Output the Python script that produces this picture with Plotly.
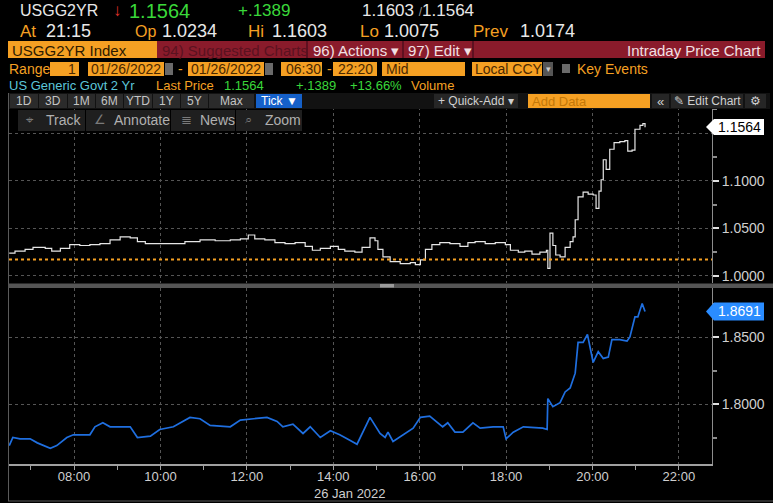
import plotly.graph_objects as go

W, H = 773, 503
FONT = "Liberation Sans, Arial, sans-serif"
DAY = "2022-01-26 "

# ---------------- data ----------------
times_2y = ["06:30", "06:38", "06:52", "07:03", "07:20", "07:29", "07:41", "07:54", "08:08", "08:22",
            "08:36", "08:50", "09:04", "09:18", "09:28", "09:39", "09:59", "10:20", "10:34", "10:55",
            "11:16", "11:37", "11:51", "12:02", "12:11", "12:25", "12:39", "12:53", "13:07", "13:21",
            "13:31", "13:42", "13:56", "14:07", "14:16", "14:30", "14:40", "14:51", "14:58", "15:02",
            "15:09", "15:19", "15:33", "15:47", "15:54", "16:01", "16:08", "16:17", "16:28", "16:42",
            "16:56", "17:07", "17:17", "17:31", "17:45", "17:59", "18:06", "18:17", "18:26", "18:36",
            "18:47", "18:56", "18:58", "19:01", "19:05", "19:09", "19:15", "19:22", "19:29", "19:33",
            "19:36", "19:40", "19:47", "19:54", "20:01", "20:05", "20:09", "20:12", "20:15", "20:19",
            "20:24", "20:30", "20:38", "20:45", "20:49", "20:55", "20:59", "21:06", "21:10", "21:13"]
yield_2y = [1.024, 1.026, 1.028, 1.030, 1.029, 1.026, 1.029, 1.033, 1.032, 1.033,
            1.034, 1.038, 1.041, 1.040, 1.036, 1.034, 1.034, 1.034, 1.036, 1.038,
            1.037, 1.038, 1.039, 1.043, 1.039, 1.038, 1.035, 1.034, 1.035, 1.031,
            1.027, 1.029, 1.031, 1.028, 1.026, 1.025, 1.030, 1.040, 1.037, 1.028,
            1.020, 1.015, 1.013, 1.014, 1.012, 1.017, 1.028, 1.033, 1.035, 1.034,
            1.031, 1.035, 1.036, 1.034, 1.035, 1.033, 1.027, 1.025, 1.026, 1.023,
            1.025, 1.027, 1.008, 1.045, 1.032, 1.022, 1.020, 1.030, 1.036, 1.041,
            1.059, 1.083, 1.088, 1.086, 1.085, 1.071, 1.089, 1.101, 1.122, 1.112,
            1.133, 1.140, 1.141, 1.142, 1.131, 1.132, 1.154, 1.158, 1.160, 1.156]

times_10y = ["06:30", "06:35", "06:45", "06:59", "07:09", "07:27", "07:36", "07:50", "07:59", "08:22",
             "08:29", "08:40", "08:50", "09:18", "09:28", "09:46", "09:59", "10:18", "10:41", "10:55",
             "11:09", "11:37", "11:51", "12:09", "12:28", "12:42", "12:50", "13:04", "13:18", "13:28",
             "13:42", "13:56", "14:09", "14:23", "14:33", "14:51", "15:05", "15:12", "15:16", "15:23",
             "15:37", "15:51", "16:01", "16:14", "16:32", "16:39", "16:49", "17:00", "17:14", "17:24",
             "17:42", "17:56", "18:00", "18:10", "18:24", "18:51", "18:57", "18:58", "19:05", "19:15",
             "19:22", "19:29", "19:36", "19:40", "19:47", "19:53", "20:01", "20:08", "20:15", "20:22",
             "20:27", "20:38", "20:48", "20:52", "20:59", "21:03", "21:09", "21:13"]
yield_10y = [1.769, 1.775, 1.774, 1.774, 1.771, 1.767, 1.769, 1.775, 1.777, 1.777,
             1.783, 1.786, 1.783, 1.783, 1.775, 1.776, 1.781, 1.783, 1.790, 1.789,
             1.784, 1.783, 1.788, 1.789, 1.790, 1.787, 1.783, 1.785, 1.778, 1.783,
             1.775, 1.780, 1.777, 1.773, 1.770, 1.790, 1.778, 1.775, 1.779, 1.772,
             1.777, 1.782, 1.790, 1.791, 1.783, 1.786, 1.779, 1.779, 1.786, 1.782,
             1.783, 1.783, 1.774, 1.779, 1.783, 1.782, 1.781, 1.804, 1.798, 1.801,
             1.809, 1.812, 1.823, 1.846, 1.846, 1.852, 1.831, 1.839, 1.834, 1.835,
             1.848, 1.848, 1.847, 1.850, 1.865, 1.865, 1.875, 1.869]

prev_close = 1.0174
last_2y = 1.1564
last_10y = 1.8691
hour_ticks = ["08:00", "10:00", "12:00", "14:00", "16:00", "18:00", "20:00", "22:00"]
minor_hours = ["07:00", "09:00", "11:00", "13:00", "15:00", "17:00", "19:00", "21:00"]
ticks_2y = [1.00, 1.05, 1.10, 1.15]
ticklabels_2y = ["1.0000", "1.0500", "1.1000", ""]   # 1.1500 hidden behind the last-price tag
ticks_10y = [1.80, 1.85]
date_label = "26 Jan 2022"

# ---------------- colours ----------------
ORANGE = "#f5a023"
GREEN = "#3ad83a"
WHITE = "#e8e8e8"
TEAL = "#5cc6da"
MAROON = "#8a1b2b"
BOXTXT = "#4a2800"
GRID = "#555555"
AXIS = "#8c8c8c"
LABEL = "#cfcfcf"


def X(px):
    return px / W


def Y(py):
    return 1 - py / H


shapes, ann = [], []


def rect(x0, y0, x1, y1, fill):
    shapes.append(dict(type="rect", xref="paper", yref="paper", x0=X(x0), x1=X(x1),
                       y0=Y(y1), y1=Y(y0), fillcolor=fill, line=dict(width=0)))


def hline(x0, x1, y, color, w=1):
    shapes.append(dict(type="line", xref="paper", yref="paper", x0=X(x0), x1=X(x1),
                       y0=Y(y), y1=Y(y), line=dict(color=color, width=w)))


def vline(x, y0, y1, color, w=1):
    shapes.append(dict(type="line", xref="paper", yref="paper", x0=X(x), x1=X(x),
                       y0=Y(y0), y1=Y(y1), line=dict(color=color, width=w)))


def txt(x, y, s, color, size, anchor="left"):
    ann.append(dict(xref="paper", yref="paper", x=X(x), y=Y(y), text=s, showarrow=False,
                    xanchor=anchor, yanchor="middle", borderpad=0,
                    font=dict(family=FONT, color=color, size=size)))


# ---------------- header ----------------
txt(19, 11, "USGG2YR", WHITE, 16)
txt(112, 11, "↓", "#e0302a", 17)
txt(128, 11, "1.1564", GREEN, 20)
txt(237, 11, "+.1389", GREEN, 17)
txt(361, 11, "1.1603 <span style='font-size:12px;color:#9a9a9a'>/</span>1.1564", WHITE, 17)

txt(19, 31, "At", ORANGE, 17)
txt(45, 31, "21:15", WHITE, 18)
txt(134, 31, "Op", ORANGE, 16)
txt(161, 31, "1.0234", WHITE, 18)
txt(247, 31, "Hi", ORANGE, 17)
txt(271, 31, "1.1603", WHITE, 18)
txt(359, 31, "Lo", ORANGE, 17)
txt(383, 31, "1.0075", WHITE, 18)
txt(472, 31, "Prev", ORANGE, 17)
txt(519, 31, "1.0174", WHITE, 18)

rect(8, 41, 157, 58, ORANGE)
txt(11, 50, "USGG2YR Index", "#2e1a00", 15)
rect(157, 41, 765, 58, MAROON)
vline(307, 41, 58, "#5e1020", 2)
vline(403, 41, 58, "#5e1020", 2)
vline(473, 41, 58, "#5e1020", 2)
txt(161, 50, "94) Suggested Charts", "#5a1220", 15)
txt(312, 50, "96) Actions ▾", "#f2e0e4", 15)
txt(407, 50, "97) Edit ▾", "#f2e0e4", 15)
txt(762, 50, "Intraday Price Chart", "#f2e0e4", 15, "right")

txt(8, 69, "Range", ORANGE, 14)
rect(50, 62, 79, 76, ORANGE)
txt(77, 69, "1", BOXTXT, 14, "right")
rect(88, 62, 164, 76, ORANGE)
txt(90, 69, "01/26/2022", BOXTXT, 14)
rect(165, 63, 173, 75, "#6a6a6a")
txt(177, 69, "-", ORANGE, 14)
rect(188, 62, 264, 76, ORANGE)
txt(190, 69, "01/26/2022", BOXTXT, 14)
rect(265, 63, 273, 75, "#6a6a6a")
rect(281, 62, 322, 76, ORANGE)
txt(285, 69, "06:30", BOXTXT, 14)
txt(326, 69, "-", ORANGE, 14)
rect(333, 62, 377, 76, ORANGE)
txt(337, 69, "22:20", BOXTXT, 14)
rect(382, 62, 465, 76, ORANGE)
txt(385, 69, "Mid", BOXTXT, 14)
rect(472, 62, 542, 76, ORANGE)
txt(474, 69, "Local CCY", BOXTXT, 14)
rect(543, 62, 553, 76, "#555555")
txt(548, 69, "▾", "#cccccc", 9, "center")
rect(562, 64, 570, 73, "#6a6a6a")
txt(576, 69, "Key Events", ORANGE, 14)

txt(8, 86, "US Generic Govt 2 Yr", TEAL, 13)
txt(155, 86, "Last Price", ORANGE, 13)
txt(223, 86, "1.1564", GREEN, 13)
txt(295, 86, "+.1389", GREEN, 13)
txt(349, 86, "+13.66%", GREEN, 13)
txt(410, 86, "Volume", ORANGE, 13)

rect(8, 93, 770, 109, "#121212")
for x0, x1, lab in [(10, 38, "1D"), (39, 67, "3D"), (68, 95, "1M"), (96, 123, "6M"),
                    (124, 152, "YTD"), (153, 180, "1Y"), (181, 208, "5Y"), (209, 254, "Max")]:
    rect(x0, 94, x1, 108, "#2b2b2b")
    txt((x0 + x1) / 2, 101, lab, "#c4c4c4", 12, "center")
rect(256, 94, 302, 108, "#1560c8")
txt(279, 101, "Tick ▼", "#ffffff", 12, "center")
rect(434, 94, 518, 108, "#262626")
txt(476, 101, "+ Quick-Add ▾", "#d0d0d0", 12, "center")
rect(528, 94, 650, 108, ORANGE)
txt(531, 101, "Add Data", "#c47808", 13)
rect(652, 94, 669, 108, "#262626")
txt(660, 101, "«", "#d0d0d0", 13, "center")
rect(671, 94, 743, 108, "#262626")
txt(707, 101, "✎ Edit Chart", "#d0d0d0", 12, "center")
rect(745, 94, 766, 108, "#262626")
txt(755, 101, "⚙", "#d0d0d0", 12, "center")

# chart toolbar
for x0, x1 in [(18, 85), (86, 170), (171, 235), (236, 302)]:
    rect(x0, 110, x1, 131, "#1f1f1f")
for ix, tx, lab, icon in [(25, 45, "Track", "⌖"), (93, 113, "Annotate", "∠"),
                          (180, 199, "News", "≣"), (244, 264, "Zoom", "⌕")]:
    txt(ix, 120, icon, "#7a7a7a", 13)
    txt(tx, 120, lab, "#b0b0b0", 14)

# frame + divider
vline(8.5, 93, 501, "#5a5a5a", 1)
hline(8, 773, 501, "#5a5a5a", 1)
rect(8, 283.5, 773, 288, "#555555")
rect(380, 284, 394, 287.5, "#9a9a9a")

txt(350, 493, date_label, LABEL, 13, "center")

# ---------------- figure ----------------
xr = [DAY + "06:29:40", DAY + "22:46:00"]
fig = go.Figure()
fig.add_trace(go.Scatter(x=[DAY + t for t in times_2y], y=yield_2y, mode="lines",
                         line=dict(color="#e6e6e6", width=1.2, shape="hv"),
                         xaxis="x", yaxis="y", hoverinfo="skip"))
fig.add_trace(go.Scatter(x=[DAY + t for t in times_10y], y=yield_10y, mode="lines",
                         line=dict(color="#1f6fe0", width=1.7),
                         xaxis="x2", yaxis="y2", hoverinfo="skip"))

# previous close line
shapes.append(dict(type="line", xref="x", yref="y", x0=xr[0], x1=xr[1], y0=prev_close, y1=prev_close,
                   line=dict(color=ORANGE, width=2, dash="dot")))


def tag(value, yref, half, fill, fcolor):
    shapes.append(dict(type="path", xref="paper", yref=yref,
                       path=f"M {X(706)} {value} L {X(714)} {value + half} L {X(764)} {value + half} "
                            f"L {X(764)} {value - half} L {X(714)} {value - half} Z",
                       fillcolor=fill, line=dict(width=0)))
    ann.append(dict(xref="paper", yref=yref, x=X(739), y=value, text=f"{value:.4f}", showarrow=False,
                    xanchor="center", yanchor="middle", font=dict(family=FONT, color=fcolor, size=14)))


tag(last_2y, "y", 8 / 950, "#ffffff", "#000000")
tag(last_10y, "y2", 9 / 1340, "#2a8cff", "#ffffff")

xdom = [X(9), X(712)]
common_x = dict(domain=xdom, range=xr, type="date", tickvals=[DAY + h for h in hour_ticks],
                showgrid=True, gridcolor=GRID, griddash="dot", gridwidth=1, zeroline=False)
yfont = dict(family=FONT, size=14, color=LABEL)

fig.update_layout(
    width=W, height=H, autosize=False,
    margin=dict(l=0, r=0, t=0, b=0),
    paper_bgcolor="#000000", plot_bgcolor="#000000",
    showlegend=False,
    xaxis=dict(**common_x, anchor="y", showticklabels=False, showline=False, ticks=""),
    xaxis2=dict(**common_x, anchor="y2", matches="x", ticktext=hour_ticks,
                showline=True, linecolor="#a0a0a0", linewidth=1.5,
                ticks="outside", ticklen=4, tickcolor="#a0a0a0", ticklabelstandoff=-4,
                tickfont=dict(family=FONT, size=13, color=LABEL),
                minor=dict(tickvals=[DAY + h for h in minor_hours], ticks="outside",
                           ticklen=4, tickcolor="#a0a0a0", showgrid=False)),
    yaxis=dict(domain=[Y(283), Y(107)], range=[0.99263, 1.17737], anchor="x", side="right",
               tickvals=ticks_2y, ticktext=ticklabels_2y, showgrid=True, gridcolor=GRID, griddash="dot",
               showline=True, linecolor=AXIS, zeroline=False,
               ticks="outside", ticklen=6, tickwidth=2, tickcolor="#e0e0e0", tickfont=yfont,
               minor=dict(dtick=0.025, tick0=1.0, ticks="outside", ticklen=4, tickcolor=AXIS, showgrid=False)),
    yaxis2=dict(domain=[Y(464), Y(288)], range=[1.75522, 1.88657], anchor="x2", side="right",
                tickvals=ticks_10y, tickformat=".4f", showgrid=True, gridcolor=GRID, griddash="dot",
                showline=True, linecolor=AXIS, zeroline=False,
                ticks="outside", ticklen=6, tickwidth=2, tickcolor="#e0e0e0", tickfont=yfont,
                minor=dict(dtick=0.025, tick0=1.75, ticks="outside", ticklen=4, tickcolor=AXIS, showgrid=False)),
    shapes=shapes,
    annotations=ann,
)

fig.write_html("out.html", config={"displayModeBar": False})
